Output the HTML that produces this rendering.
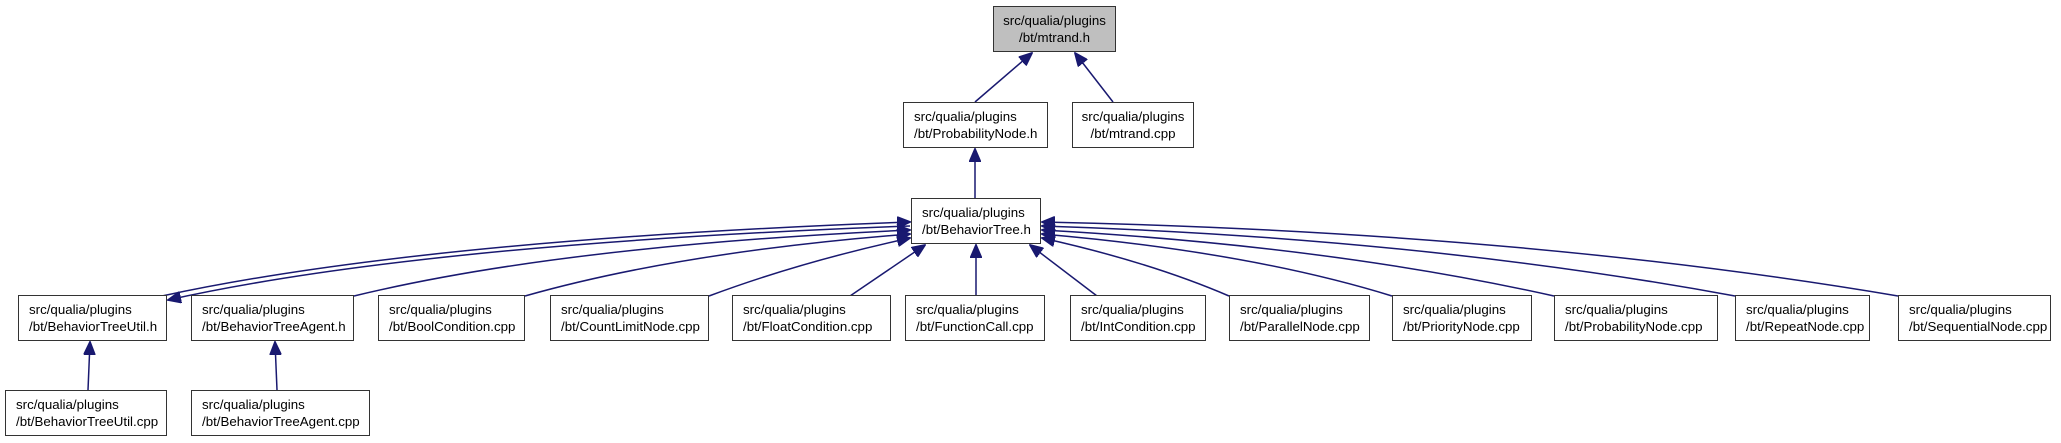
<!DOCTYPE html>
<html><head><meta charset="utf-8"><style>
body{margin:0;width:2061px;height:443px;background:#fff;position:relative;overflow:hidden;font-family:"Liberation Sans",Arial,sans-serif;}
.b{position:absolute;box-sizing:border-box;border:1.5px solid #333;background:#fff;height:46px;font-size:13.3px;line-height:17px;color:#000;padding:5px 0 0 10px;white-space:nowrap;}
.c{text-align:center;padding-left:0;}
svg{position:absolute;left:0;top:0;}
</style></head><body>
<svg width="2061" height="443">
<defs><marker id="a" markerWidth="14" markerHeight="12" refX="13" refY="6" orient="auto" markerUnits="userSpaceOnUse"><path d="M0,0 L14,6 L0,12 z" fill="#191970" stroke="#191970"/></marker></defs>
<g fill="none" stroke="#191970" stroke-width="1.5" marker-end="url(#a)">
<path d="M975,102 L1032,53"/>
<path d="M1113,102 L1075,53"/>
<path d="M975,198 L975,149"/>
<path d="M88,390 L90,342"/>
<path d="M277,390 L275,342"/>
<path d="M162,296 Q420,240 910,222"/>
<path d="M910,226 Q420,244 168,300"/>
<path d="M354,296 Q560,246 910,230"/>
<path d="M525,296 Q680,252 910,234"/>
<path d="M709,296 Q800,262 910,238"/>
<path d="M850,296 L925,245"/>
<path d="M976,296 L976,245"/>
<path d="M1097,296 L1030,245"/>
<path d="M1229,296 Q1150,262 1042,238"/>
<path d="M1392,296 Q1250,252 1042,234"/>
<path d="M1554,296 Q1330,246 1042,230"/>
<path d="M1735,296 Q1420,238 1042,226"/>
<path d="M1898,296 Q1520,232 1042,222"/>
</g>
</svg>
<div class="b c" style="left:993px;top:6px;width:123px;background:#bfbfbf">src/qualia/plugins<br>/bt/mtrand.h</div>
<div class="b" style="left:903px;top:102px;width:145px">src/qualia/plugins<br>/bt/ProbabilityNode.h</div>
<div class="b c" style="left:1072px;top:102px;width:122px">src/qualia/plugins<br>/bt/mtrand.cpp</div>
<div class="b" style="left:911px;top:198px;width:130px">src/qualia/plugins<br>/bt/BehaviorTree.h</div>
<div class="b" style="left:18px;top:295px;width:149px">src/qualia/plugins<br>/bt/BehaviorTreeUtil.h</div>
<div class="b" style="left:191px;top:295px;width:163px">src/qualia/plugins<br>/bt/BehaviorTreeAgent.h</div>
<div class="b" style="left:378px;top:295px;width:147px">src/qualia/plugins<br>/bt/BoolCondition.cpp</div>
<div class="b" style="left:550px;top:295px;width:159px">src/qualia/plugins<br>/bt/CountLimitNode.cpp</div>
<div class="b" style="left:732px;top:295px;width:159px">src/qualia/plugins<br>/bt/FloatCondition.cpp</div>
<div class="b" style="left:905px;top:295px;width:140px">src/qualia/plugins<br>/bt/FunctionCall.cpp</div>
<div class="b" style="left:1070px;top:295px;width:136px">src/qualia/plugins<br>/bt/IntCondition.cpp</div>
<div class="b" style="left:1229px;top:295px;width:141px">src/qualia/plugins<br>/bt/ParallelNode.cpp</div>
<div class="b" style="left:1392px;top:295px;width:140px">src/qualia/plugins<br>/bt/PriorityNode.cpp</div>
<div class="b" style="left:1554px;top:295px;width:164px">src/qualia/plugins<br>/bt/ProbabilityNode.cpp</div>
<div class="b" style="left:1735px;top:295px;width:135px">src/qualia/plugins<br>/bt/RepeatNode.cpp</div>
<div class="b" style="left:1898px;top:295px;width:153px">src/qualia/plugins<br>/bt/SequentialNode.cpp</div>
<div class="b" style="left:5px;top:390px;width:162px">src/qualia/plugins<br>/bt/BehaviorTreeUtil.cpp</div>
<div class="b" style="left:191px;top:390px;width:179px">src/qualia/plugins<br>/bt/BehaviorTreeAgent.cpp</div>
</body></html>
